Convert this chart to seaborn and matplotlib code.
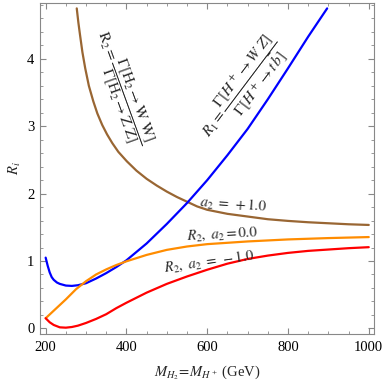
import numpy as np
import pandas as pd
import matplotlib
matplotlib.use("Agg")
import matplotlib.pyplot as plt
from matplotlib.ticker import MultipleLocator
import seaborn as sns

# R1 (blue)
x_r1 = [200, 205, 210, 215, 220, 228, 235, 250, 265, 280, 300, 325, 350, 375,
        400, 450, 500, 550, 600, 650, 700, 750, 800, 850, 897]
y_r1 = [1.05, 0.93, 0.83, 0.76, 0.72, 0.68, 0.66, 0.635, 0.63, 0.64, 0.67, 0.74,
        0.82, 0.91, 1.01, 1.26, 1.55, 1.86, 2.20, 2.57, 2.96, 3.40, 3.86, 4.33, 4.75]

# R2, a2 = +1.0 (brown)
x_p1 = [277, 281, 285, 291, 298, 307, 318, 328, 340, 352, 365, 380, 401, 425,
        450, 475, 500, 525, 550, 575, 600, 650, 700, 750, 800, 850, 900, 950, 1000]
y_p1 = [4.75, 4.54, 4.36, 4.10, 3.86, 3.60, 3.37, 3.19, 3.02, 2.88, 2.75, 2.62,
        2.48, 2.34, 2.22, 2.12, 2.03, 1.95, 1.88, 1.81, 1.76, 1.70, 1.66, 1.62,
        1.595, 1.575, 1.56, 1.545, 1.535]

# R2, a2 = 0.0 (orange)
x_0 = [200, 225, 250, 275, 300, 325, 350, 375, 400, 450, 500, 550, 600, 700,
       800, 900, 1000]
y_0 = [0.15, 0.29, 0.43, 0.58, 0.70, 0.80, 0.875, 0.94, 0.995, 1.09, 1.165, 1.215,
       1.25, 1.29, 1.32, 1.34, 1.355]

# R2, a2 = -1.0 (red)
x_m1 = [200, 210, 220, 235, 250, 265, 280, 300, 325, 350, 375, 400, 450, 500,
        550, 600, 650, 700, 750, 800, 850, 900, 950, 1000]
y_m1 = [0.15, 0.09, 0.05, 0.015, 0.01, 0.02, 0.04, 0.08, 0.14, 0.21, 0.30, 0.38,
        0.53, 0.66, 0.77, 0.87, 0.96, 1.03, 1.08, 1.12, 1.15, 1.17, 1.19, 1.205]

sns.set_style("ticks")
plt.rcParams["font.family"] = ["Liberation Serif", "DejaVu Serif"]
plt.rcParams["mathtext.fontset"] = "stix"
plt.rcParams["font.size"] = 10.5

fig = plt.figure(figsize=(3.82, 3.85), dpi=100)
ax = fig.add_axes([40 / 382, 51 / 385, 334 / 382, 331 / 385])

sns.lineplot(x=x_p1, y=y_p1, color="#996633", lw=1.6, ax=ax)
sns.lineplot(x=x_r1, y=y_r1, color="#0000ff", lw=1.6, ax=ax)
sns.lineplot(x=x_0, y=y_0, color="#ff8c00", lw=1.6, ax=ax)
sns.lineplot(x=x_m1, y=y_m1, color="#ff0000", lw=1.6, ax=ax)

ax.set_xlim(186, 1013)
ax.set_ylim(-0.084, 4.83)
ax.xaxis.set_major_locator(MultipleLocator(200))
ax.xaxis.set_minor_locator(MultipleLocator(50))
ax.yaxis.set_major_locator(MultipleLocator(1))
ax.yaxis.set_minor_locator(MultipleLocator(0.2))
ax.tick_params(which="both", direction="in", top=True, right=True,
               color="#888888", labelsize=10.5, labelcolor="black")
ax.tick_params(which="major", length=4.5, width=0.8)
ax.tick_params(which="minor", length=2.5, width=0.6)
ax.tick_params(axis="x", pad=5)
ax.tick_params(axis="y", pad=4)
for s in ax.spines.values():
    s.set_color("#888888")
    s.set_linewidth(0.8)

ax.set_xlabel(r"$M_{H_2}\!=\!M_{H^+}$ (GeV)", fontsize=10.5, labelpad=7)
ax.set_ylabel(r"$R_i$", fontsize=10.5, labelpad=3)

ax.text(385, 3.55,
        r"$\mathrm{R_2}{=}\dfrac{\Gamma[\mathrm{H_2}\rightarrow\mathrm{W\ W}]}{\Gamma[\mathrm{H_2}\rightarrow\mathrm{Z\ Z}]}$",
        rotation=-70, ha="center", va="center", fontsize=11)
ax.text(690, 3.55,
        r"$R_1{=}\dfrac{\Gamma[H^+\rightarrow W\ Z]}{\Gamma[H^+\rightarrow t\,\bar{b}]}$",
        rotation=53, ha="center", va="center", fontsize=11)
ax.text(665, 1.84, r"$a_2\;=\;+1.0$", rotation=-4, ha="center", va="center", fontsize=10.5)
ax.text(638, 1.40, r"$R_2,\ a_2 = 0.0$", rotation=3, ha="center", va="center", fontsize=10.5)
ax.text(606, 0.99, r"$R_2,\ a_2\;=\;-1.0$", rotation=8, ha="center", va="center", fontsize=10.5)

fig.savefig("out.png", dpi=100)
